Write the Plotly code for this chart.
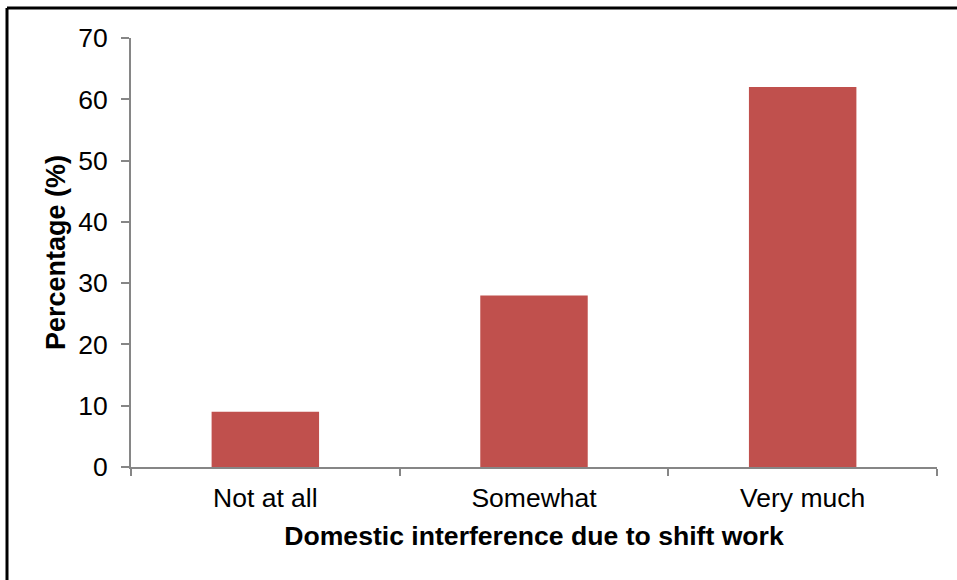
import plotly.graph_objects as go

categories = ["Not at all", "Somewhat", "Very much"]
percentages = [9, 28, 62]
y_ticks = [0, 10, 20, 30, 40, 50, 60, 70]

BAR_COLOR = "#C0504D"
AXIS_COLOR = "#868686"
FONT = "Liberation Sans, Arial, sans-serif"

W, H = 957, 580
ML, MR, MT, MB = 131, 20, 38, 113

fig = go.Figure(
    go.Bar(
        x=categories,
        y=percentages,
        marker=dict(color=BAR_COLOR, line=dict(width=0)),
        width=0.4,
    )
)

fig.update_layout(
    width=W,
    height=H,
    margin=dict(l=ML, r=MR, t=MT, b=MB, pad=0),
    paper_bgcolor="white",
    plot_bgcolor="white",
    showlegend=False,
    font=dict(family=FONT, color="black"),
    xaxis=dict(
        showline=True,
        linecolor=AXIS_COLOR,
        linewidth=2,
        ticks="outside",
        tickson="boundaries",
        ticklen=7,
        tickcolor=AXIS_COLOR,
        tickwidth=2,
        ticklabelstandoff=6,
        tickfont=dict(size=26.5, family=FONT, color="black"),
        showgrid=False,
        zeroline=False,
        title=dict(
            text="<b>Domestic interference due to shift work</b>",
            font=dict(size=26.6, family=FONT, color="black"),
            standoff=15,
        ),
    ),
    yaxis=dict(
        range=[0, 70],
        tickvals=y_ticks,
        showline=True,
        linecolor=AXIS_COLOR,
        linewidth=2,
        ticks="outside",
        ticklen=8,
        tickcolor=AXIS_COLOR,
        tickwidth=2,
        ticklabelstandoff=8,
        tickfont=dict(size=26.5, family=FONT, color="black"),
        showgrid=False,
        zeroline=False,
        title=dict(
            text="<b>Percentage (%)</b>",
            font=dict(size=27, family=FONT, color="black"),
            standoff=5,
        ),
    ),
)

# Frame lines along the top and left edges of the figure
pw = W - ML - MR
ph = H - MT - MB
def px_x(x):
    return (x - ML) / pw
def px_y(y):
    return 1 - (y - MT) / ph

fig.add_shape(type="line", xref="paper", yref="paper",
              x0=px_x(7), x1=px_x(W + 5), y0=px_y(8), y1=px_y(8),
              line=dict(color="black", width=3))
fig.add_shape(type="line", xref="paper", yref="paper",
              x0=px_x(7), x1=px_x(7), y0=px_y(8), y1=px_y(H + 5),
              line=dict(color="black", width=3))

fig.write_html("out.html")
